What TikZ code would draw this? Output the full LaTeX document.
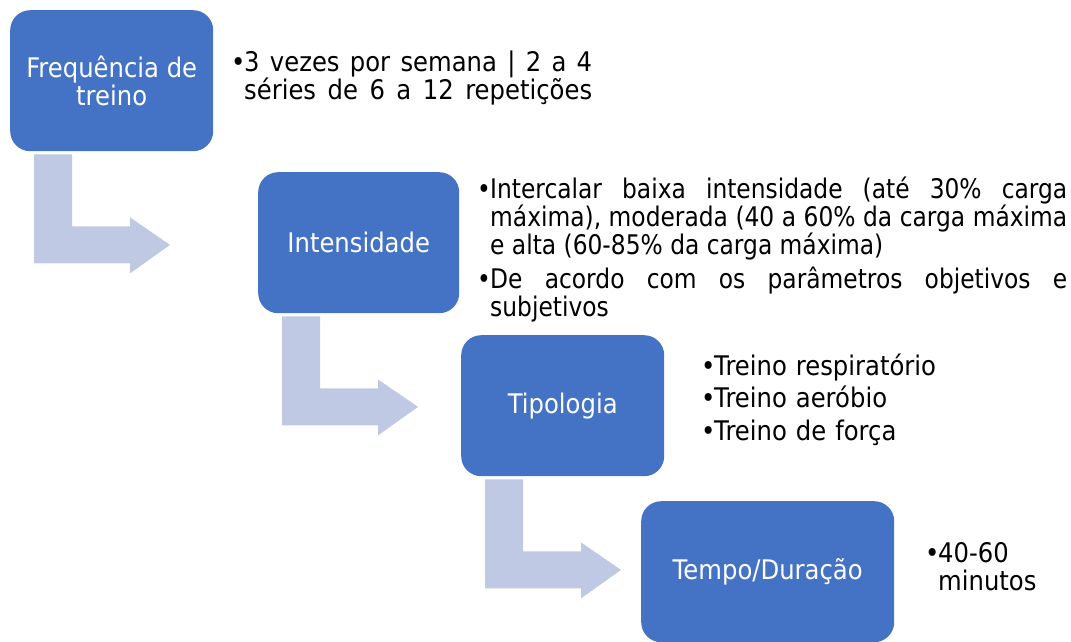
\documentclass[tikz,border=0pt]{standalone}
\usepackage{fontspec}
\setmainfont{DejaVu Sans}[FakeStretch=0.9]
\newfontfamily\narrowf{DejaVu Sans}[FakeStretch=0.865]
\definecolor{boxblue}{HTML}{4472C4}
\definecolor{arrowfill}{RGB}{191,201,228}
\newcommand\bul{\noindent\hangindent=11pt\hangafter=1\makebox[11pt][l]{\hspace{-2pt}•}}
\tikzset{
  box/.style={fill=boxblue, rounded corners=20pt, text=white, align=center, inner sep=0pt,
    anchor=north west, minimum height=141pt, font=\fontsize{27}{28}\selectfont},
  txt/.style={anchor=base west, inner sep=0pt, align=justify, font=\fontsize{27}{28}\selectfont},
  bentarr/.pic={\fill[arrowfill] (24,3) -- (62,3) -- (62,75) -- (120,75) -- (120,66)
    -- (160,93.5) -- (120,122) -- (120,112) -- (24,112) -- cycle;}
}
\begin{document}
\begin{tikzpicture}[x=1pt,y=-1pt]
\useasboundingbox (0,0) rectangle (1071,642);
\node[box, minimum width=203pt] (f) at (10,10) {Frequência de\\treino};
\node[box, minimum width=201pt] (i) at (258,172) {Intensidade};
\node[box, minimum width=203pt] (t) at (461,335) {Tipologia};
\node[box, minimum width=253pt] (d) at (641,501) {Tempo/Duração};
\pic at (f.south west) {bentarr};
\pic at (i.south west) {bentarr};
\pic at (t.south west) {bentarr};
\node[txt, text width=359pt] (ft) at (233,72) {\bul 3 vezes por semana | 2 a 4\linebreak séries de 6 a 12 repetições\parfillskip=0pt\par};
\node[txt, text width=588pt, font=\fontsize{27}{28}\narrowf] (it) at (479,198) {\hyphenpenalty=10000\bul Intercalar baixa intensidade (até 30\% carga\linebreak máxima), moderada (40 a 60\% da carga máxima\linebreak e alta (60-85\% da carga máxima)\par\vspace{6pt}\bul De acordo com os parâmetros objetivos e\linebreak subjetivos\par};
\node[txt, text width=300pt, align=left] (tt) at (703,375) {\bul Treino respiratório\par\vspace{4.5pt}\bul Treino aeróbio\par\vspace{4.5pt}\bul Treino de força\par};
\node[txt, text width=130pt, align=left] (dt) at (927,562) {\bul 40-60\break minutos\par};
\end{tikzpicture}
\end{document}
